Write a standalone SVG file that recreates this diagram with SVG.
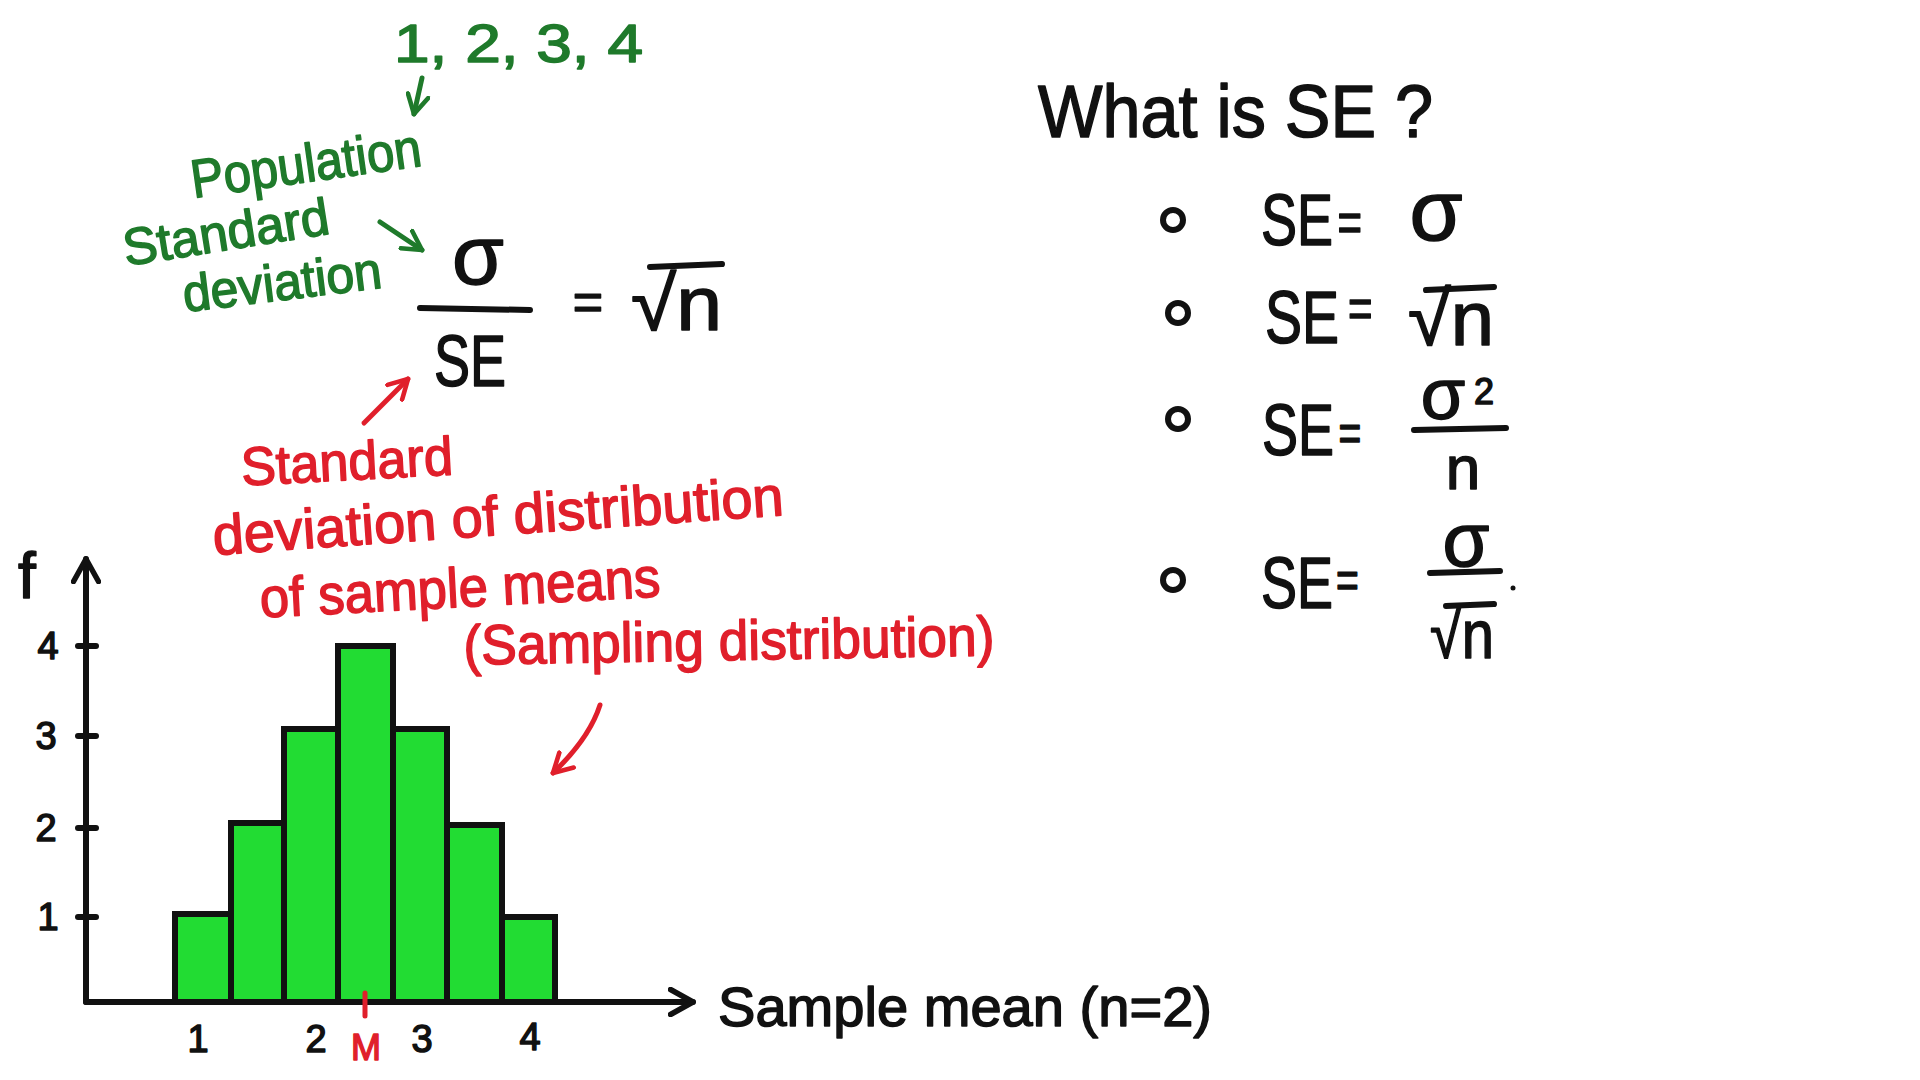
<svg xmlns="http://www.w3.org/2000/svg" width="1920" height="1080" viewBox="0 0 1920 1080">
<style>
text{font-family:"Liberation Sans","DejaVu Sans",sans-serif}
.k{fill:#111;stroke:#111;stroke-width:1.5;stroke-linejoin:round}
.g{fill:#1f7a2b;stroke:#1f7a2b;stroke-width:1.5;stroke-linejoin:round}
.r{fill:#e01f2b;stroke:#e01f2b;stroke-width:1.5;stroke-linejoin:round}
.ln{stroke:#111;stroke-width:6;fill:none;stroke-linecap:round}
.bar{fill:#22dc33;stroke:#111;stroke-width:6;stroke-linejoin:miter}
.bul{fill:none;stroke:#111;stroke-width:6}
</style>
<defs>
<marker id="ak" viewBox="0 0 12 12" refX="10" refY="6" markerWidth="5" markerHeight="5" orient="auto" markerUnits="strokeWidth"><path d="M1,1 L10,6 L1,11" fill="none" stroke="#111" stroke-width="2.2" stroke-linecap="round" stroke-linejoin="round"/></marker>
<marker id="ag" viewBox="0 0 12 12" refX="10" refY="6" markerWidth="5" markerHeight="5" orient="auto" markerUnits="strokeWidth"><path d="M1,1 L10,6 L1,11" fill="none" stroke="#1f7a2b" stroke-width="2.2" stroke-linecap="round" stroke-linejoin="round"/></marker>
<marker id="ar" viewBox="0 0 12 12" refX="10" refY="6" markerWidth="5" markerHeight="5" orient="auto" markerUnits="strokeWidth"><path d="M1,1 L10,6 L1,11" fill="none" stroke="#e01f2b" stroke-width="2.2" stroke-linecap="round" stroke-linejoin="round"/></marker>
</defs>
<rect width="1920" height="1080" fill="#fff"/>

<g id="population-values">
<text class="g" x="394" y="62" font-size="54" textLength="249" lengthAdjust="spacingAndGlyphs">1, 2, 3, 4</text>
</g>
<g id="population-sd-label">
<text class="g" x="306" y="182" font-size="54" text-anchor="middle" textLength="232" lengthAdjust="spacingAndGlyphs" transform="rotate(-8 306 165)">Population</text>
<text class="g" x="226" y="250" font-size="52" text-anchor="middle" textLength="208" lengthAdjust="spacingAndGlyphs" transform="rotate(-9 226 233)">Standard</text>
<text class="g" x="282" y="300" font-size="52" text-anchor="middle" textLength="200" lengthAdjust="spacingAndGlyphs" transform="rotate(-7 282 282)">deviation</text>
</g>
<g id="formula">
<text class="k" x="478" y="284" font-size="84" text-anchor="middle">σ</text>
<line class="ln" x1="420" y1="308" x2="530" y2="310"/>
<text class="k" x="470" y="386" font-size="72" text-anchor="middle" textLength="72" lengthAdjust="spacingAndGlyphs">SE</text>
<text class="k" x="588" y="320" font-size="52" text-anchor="middle">=</text>
<text class="k" x="631" y="330" font-size="76" textLength="91" lengthAdjust="spacingAndGlyphs">√n</text>
<line class="ln" x1="650" y1="267" x2="722" y2="264"/>
</g>
<g id="se-label">
<text class="r" x="347" y="480" font-size="54" text-anchor="middle" textLength="212" lengthAdjust="spacingAndGlyphs" transform="rotate(-3 347 463)">Standard</text>
<text class="r" x="498" y="535" font-size="56" text-anchor="middle" textLength="572" lengthAdjust="spacingAndGlyphs" transform="rotate(-4 498 517)">deviation of distribution</text>
<text class="r" x="460" y="607" font-size="56" text-anchor="middle" textLength="401" lengthAdjust="spacingAndGlyphs" transform="rotate(-3 460 590)">of sample means</text>
<text class="r" x="729" y="660" font-size="56" text-anchor="middle" textLength="531" lengthAdjust="spacingAndGlyphs" transform="rotate(-1 729 643)">(Sampling distribution)</text>
</g>

<g id="question">
<text class="k" x="1038" y="137" font-size="74" textLength="395" lengthAdjust="spacingAndGlyphs">What is SE ?</text>
</g>
<g id="option-1">
<circle class="bul" cx="1173" cy="220" r="10"/>
<text class="k" transform="translate(1261 245) scale(0.75 1)" font-size="72">SE<tspan font-size="56" dx="6" dy="-4">=</tspan></text>
<text class="k" x="1436" y="240" font-size="86" text-anchor="middle">σ</text>
</g>
<g id="option-2">
<circle class="bul" cx="1178" cy="313" r="10"/>
<text class="k" transform="translate(1265 343) scale(0.75 1)" font-size="74">SE<tspan font-size="56" dx="12" dy="-16">=</tspan></text>
<text class="k" x="1408" y="345" font-size="76" textLength="86" lengthAdjust="spacingAndGlyphs">√n</text>
<line class="ln" x1="1426" y1="290" x2="1494" y2="287"/>
</g>
<g id="option-3">
<circle class="bul" cx="1178" cy="419" r="10"/>
<text class="k" transform="translate(1262 455) scale(0.75 1)" font-size="72">SE<tspan font-size="52" dx="6" dy="-4">=</tspan></text>
<text class="k" x="1443" y="419" font-size="72" text-anchor="middle">σ</text>
<text class="k" x="1484" y="404" font-size="36" text-anchor="middle">2</text>
<line class="ln" x1="1414" y1="430" x2="1506" y2="428"/>
<text class="k" x="1463" y="489" font-size="62" text-anchor="middle">n</text>
</g>
<g id="option-4">
<circle class="bul" cx="1173" cy="580" r="10"/>
<text class="k" transform="translate(1261 608) scale(0.75 1)" font-size="72">SE<tspan font-size="52" dx="4" dy="-10">=</tspan></text>
<text class="k" x="1466" y="566" font-size="76" text-anchor="middle">σ</text>
<line class="ln" x1="1430" y1="573" x2="1500" y2="571"/>
<text class="k" x="1430" y="658" font-size="68" textLength="64" lengthAdjust="spacingAndGlyphs">√n</text>
<line class="ln" x1="1446" y1="606" x2="1494" y2="604"/>
<circle cx="1513" cy="588" r="2.5" fill="#111"/>
</g>

<g id="histogram">
<rect class="bar" x="175" y="914" width="56" height="88"/>
<rect class="bar" x="231" y="823" width="53" height="179"/>
<rect class="bar" x="284" y="729" width="54" height="273"/>
<rect class="bar" x="338" y="646" width="55" height="356"/>
<rect class="bar" x="393" y="729" width="54" height="273"/>
<rect class="bar" x="447" y="825" width="55" height="177"/>
<rect class="bar" x="502" y="917" width="53" height="85"/>
</g>
<g id="axes">
<line class="ln" x1="86" y1="1002" x2="86" y2="559" marker-end="url(#ak)"/>
<line class="ln" x1="86" y1="1002" x2="693" y2="1002" marker-end="url(#ak)"/>
<line class="ln" x1="78" y1="646" x2="96" y2="646"/>
<line class="ln" x1="78" y1="736" x2="96" y2="736"/>
<line class="ln" x1="78" y1="828" x2="96" y2="828"/>
<line class="ln" x1="78" y1="917" x2="96" y2="917"/>
<text class="k" x="27" y="598" font-size="64" text-anchor="middle">f</text>
<text class="k" x="48" y="659" font-size="38" text-anchor="middle">4</text>
<text class="k" x="46" y="749" font-size="38" text-anchor="middle">3</text>
<text class="k" x="46" y="841" font-size="38" text-anchor="middle">2</text>
<text class="k" x="48" y="930" font-size="38" text-anchor="middle">1</text>
<text class="k" x="198" y="1052" font-size="38" text-anchor="middle">1</text>
<text class="k" x="316" y="1052" font-size="38" text-anchor="middle">2</text>
<text class="k" x="422" y="1052" font-size="38" text-anchor="middle">3</text>
<text class="k" x="530" y="1050" font-size="38" text-anchor="middle">4</text>
<line x1="365" y1="993" x2="365" y2="1016" stroke="#e01f2b" stroke-width="5" stroke-linecap="round"/>
<text class="r" x="366" y="1060" font-size="36" text-anchor="middle">M</text>
<text class="k" x="718" y="1026" font-size="56" textLength="494" lengthAdjust="spacingAndGlyphs">Sample mean (n=2)</text>
</g>

<g id="connectors">
<line x1="422" y1="78" x2="414" y2="114" stroke="#1f7a2b" stroke-width="5" stroke-linecap="round" marker-end="url(#ag)"/>
<line x1="380" y1="222" x2="422" y2="250" stroke="#1f7a2b" stroke-width="5" stroke-linecap="round" marker-end="url(#ag)"/>
<line x1="364" y1="423" x2="408" y2="379" stroke="#e01f2b" stroke-width="5" stroke-linecap="round" marker-end="url(#ar)"/>
<path d="M600,705 C592,730 575,752 553,773" fill="none" stroke="#e01f2b" stroke-width="5" stroke-linecap="round" marker-end="url(#ar)"/>
</g>
</svg>
